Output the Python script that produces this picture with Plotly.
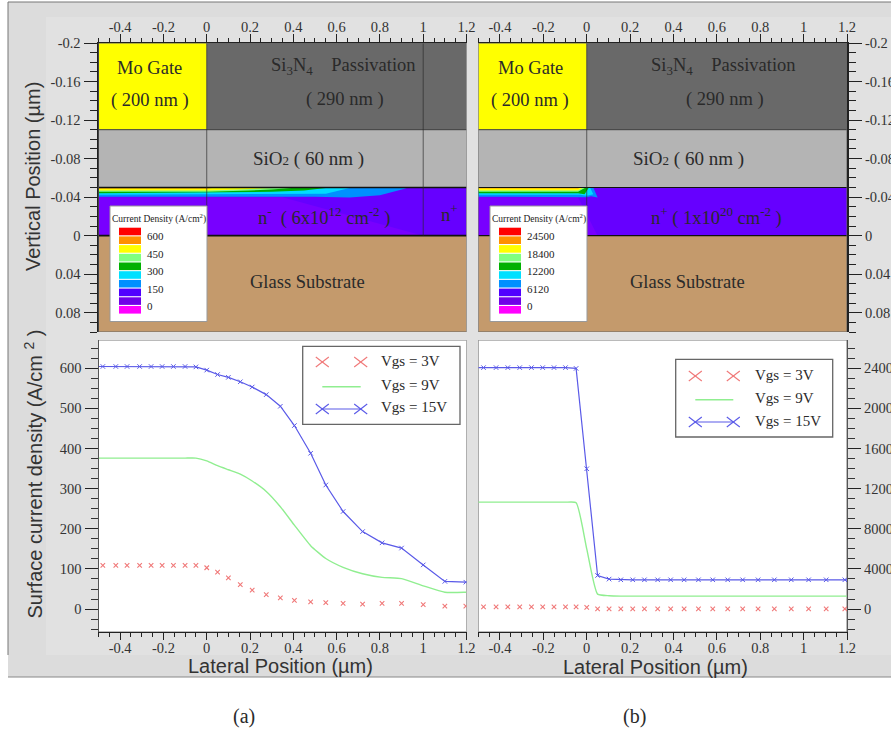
import plotly.graph_objects as go

W, H = 891, 734
SERIF = "Liberation Serif"
SANS = "Liberation Sans"
INK = "#2a2a2a"

# ---------- data: surface current density ----------
XA = [-0.48, -0.42, -0.368, -0.31, -0.257, -0.206, -0.154, -0.10, -0.05, 0.0, 0.05, 0.10, 0.155,
      0.21, 0.275, 0.34, 0.405, 0.48, 0.55, 0.63, 0.72, 0.81, 0.90, 1.0, 1.10, 1.197]
A_3V = [109, 109, 109, 109, 109, 109, 109, 109, 109, 103, 92, 78, 61,
        47, 36, 28, 22, 18, 16, 14, 12.5, 14, 14, 11, 7.5, 7.5]
A_9V = [376, 376, 376, 376, 376, 376, 376, 376, 376, 369, 357, 347, 336,
        319, 293, 255, 209, 158, 126, 104, 88, 79, 76, 58, 42, 42]
A_15V = [604, 604, 604, 604, 604, 604, 604, 604, 603, 595, 584, 577, 566,
         553, 534, 505, 457, 388, 309, 243, 193, 165, 152, 110, 69, 67]

XB = [-0.476, -0.418, -0.364, -0.309, -0.255, -0.203, -0.151, -0.098, -0.049, 0.0, 0.05, 0.103,
      0.157, 0.212, 0.266, 0.327, 0.387, 0.449, 0.515, 0.581, 0.65, 0.719, 0.79, 0.865, 0.943,
      1.023, 1.104, 1.19]
B_3V = [230, 230, 230, 230, 230, 230, 230, 230, 230, 165, 30, 30,
        30, 30, 30, 30, 30, 30, 30, 30, 30, 30, 30, 30, 30, 30, 30, 30]
B_9V = [10650, 10650, 10650, 10650, 10650, 10650, 10650, 10650, 10600, 6000, 1490, 1330,
        1295, 1295, 1295, 1295, 1295, 1295, 1295, 1295, 1295, 1295, 1295, 1295, 1295, 1295, 1295, 1295]
B_15V = [24050, 24050, 24050, 24050, 24050, 24050, 24050, 24050, 23970, 13975, 3350, 2990,
         2920, 2920, 2920, 2920, 2920, 2920, 2920, 2920, 2920, 2920, 2920, 2920, 2920, 2920, 2920, 2920]

# ---------- data: device cross-section layers ----------
GATE_COLOR, NITRIDE_COLOR, OXIDE_COLOR = "#ffff00", "#696969", "#b4b4b4"
N_COLOR, N_LIGHT, GLASS_COLOR = "#6600ff", "#7800ff", "#c49a6c"
Y_TOP, Y_GATE, Y_OXIDE, Y_SI, Y_BOTTOM = -0.2, -0.11, -0.05, 0.0, 0.1
X_MIN, X_MAX = -0.5, 1.2

BAND_COLORS = ["#0090ff", "#00dcff", "#00b000", "#80ff80", "#ffff00", "#ff9000"]
BANDS_A = [
    ([-0.5, 0.35, 0.5, 0.66, 0.8, 0.91, 0.93], [-0.0405, -0.041, -0.0405, -0.0395, -0.042, -0.0485, -0.05]),
    ([-0.5, 0.2, 0.35, 0.55, 0.66], [-0.0425, -0.043, -0.0435, -0.0435, -0.0495]),
    ([-0.5, 0.3, 0.45, 0.57], [-0.044, -0.0455, -0.047, -0.05]),
    ([-0.5, 0.0, 0.2, 0.3, 0.42], [-0.0455, -0.0455, -0.047, -0.048, -0.05]),
    ([-0.5, 0.0, 0.15, 0.3, 0.35], [-0.047, -0.047, -0.048, -0.049, -0.05]),
    ([-0.5, 0.0, 0.05], [-0.049, -0.049, -0.05]),
]
BANDS_B = [
    ([-0.5, -0.02, 0.0, 0.02, 0.05, 0.03], [-0.0405, -0.0405, -0.04, -0.041, -0.0395, -0.05]),
    ([-0.5, -0.03, 0.0, 0.03, 0.015], [-0.0425, -0.0425, -0.0415, -0.043, -0.05]),
    ([-0.5, -0.04, -0.01, 0.01], [-0.044, -0.044, -0.043, -0.05]),
    ([-0.5, -0.04, -0.005], [-0.0455, -0.0455, -0.05]),
    ([-0.5, -0.04, -0.015], [-0.047, -0.047, -0.05]),
    ([-0.5, -0.04, -0.03], [-0.049, -0.049, -0.05]),
]
WEDGE_A = ([-0.5, 0.35, 1.0, -0.5], [-0.04, -0.04, 0.0, 0.0])
WEDGE_B = ([-0.5, -0.04, 0.05, -0.5], [-0.04, -0.04, 0.0, 0.0])

# ---------- data: colour keys and tick labels ----------
KEY_COLORS = ["#ff0000", "#ff9000", "#ffff00", "#80ff80", "#00b000",
              "#00e0ff", "#0090ff", "#5000ff", "#7000e8", "#ff00ff"]
KEY_LABELS_A = ["600", "450", "300", "150", "0"]
KEY_LABELS_B = ["24500", "18400", "12200", "6120", "0"]
X_TICKS = [-0.4, -0.2, 0, 0.2, 0.4, 0.6, 0.8, 1, 1.2]
X_LABELS = ["-0.4", "-0.2", "0", "0.2", "0.4", "0.6", "0.8", "1", "1.2"]
DEPTH_TICKS = [-0.2, -0.16, -0.12, -0.08, -0.04, 0, 0.04, 0.08]
DEPTH_LABELS = ["-0.2", "-0.16", "-0.12", "-0.08", "-0.04", "0", "0.04", "0.08"]
A_TICKS = [0, 100, 200, 300, 400, 500, 600]
B_TICKS = [0, 4000, 8000, 12000, 16000, 20000, 24000]
SERIES_NAMES = ["Vgs = 3V", "Vgs = 9V", "Vgs = 15V"]
RED, GREEN, BLUE = "#f07878", "#90ee90", "#5a5ae8"


def px(x):
    return x / W


def py(y):
    return 1 - y / H


def pbox(x0, y0, x1, y1, **kw):
    return dict(type="rect", xref="paper", yref="paper", x0=px(x0), x1=px(x1), y0=py(y0), y1=py(y1), **kw)


def pline(x0, y0, x1, y1, color, width=1):
    return dict(type="line", xref="paper", yref="paper", x0=px(x0), x1=px(x1), y0=py(y0), y1=py(y1),
                line=dict(color=color, width=width))


def label(x, y, text, size=18, font=SERIF, color=INK, xanchor="center", angle=0):
    return dict(xref="paper", yref="paper", x=px(x), y=py(y), text=text, showarrow=False, textangle=angle,
                xanchor=xanchor, yanchor="middle", font=dict(family=font, size=size, color=color))


shapes, notes = [], []

# photographed page background
shapes += [pbox(8, 2, W, 677, fillcolor="#dcdcdc", line_width=0, layer="below"),
           pbox(46, 17, W, 655, fillcolor="#e1e1e1", line_width=0, layer="below"),
           pline(8, 2, W, 2, "#777777"), pline(8, 2, 8, 655, "#777777"), pline(8, 677, W, 677, "#888888")]
shapes[2]["layer"] = shapes[3]["layer"] = shapes[4]["layer"] = "below"

fig = go.Figure()


def axis_common(**kw):
    base = dict(showgrid=False, zeroline=False, ticks="outside", tickcolor="#222222", tickwidth=1, automargin=False,
                tickfont=dict(family=SERIF, size=14.5, color="#333333"), showline=True, linecolor="#222222")
    base.update(kw)
    return base


PANELS = {"a": (98.5, 466.5), "b": (478.3, 847)}
TOP_PX, BOTTOM_PX = (43, 332), (340, 632)

layout_axes = {}
# x/y : top a, x2/y2 : top b, x3/y3 : bottom a, x4/y4 : bottom b
for idx, (panel, (l, r), side) in enumerate([("a", PANELS["a"], "left"), ("b", PANELS["b"], "right")]):
    n_top, n_bot = 1 + idx * 1, 3 + idx * 1
    s_top = "" if n_top == 1 else str(n_top)
    s_bot = str(n_bot)
    layout_axes[f"xaxis{s_top}"] = axis_common(
        domain=[px(l), px(r)], range=[X_MIN, X_MAX], anchor=f"y{s_top}", side="top",
        tickvals=X_TICKS, ticktext=X_LABELS, ticklen=8, ticklabelstandoff=-4,
        minor=dict(dtick=0.05, tick0=0, ticks="outside", ticklen=4, tickcolor="#222222"))
    layout_axes[f"yaxis{s_top}"] = axis_common(
        domain=[py(TOP_PX[1]), py(TOP_PX[0])], range=[Y_BOTTOM, Y_TOP], anchor=f"x{s_top}", side=side,
        tickvals=DEPTH_TICKS, ticktext=DEPTH_LABELS, ticklen=13, linewidth=2,
        minor=dict(dtick=0.01, tick0=0, ticks="outside", ticklen=7, tickcolor="#222222"))
    layout_axes[f"xaxis{s_bot}"] = axis_common(
        domain=[px(l), px(r)], range=[X_MIN, X_MAX], anchor=f"y{s_bot}", side="bottom",
        tickvals=X_TICKS, ticktext=X_LABELS, ticklen=7, ticklabelstandoff=-4,
        minor=dict(dtick=0.05, tick0=0, ticks="outside", ticklen=4, tickcolor="#222222"))
    if panel == "a":
        yr, tv, md = [-57, 670], A_TICKS, 25
    else:
        yr, tv, md = [-2280, 26800], B_TICKS, 1000
    layout_axes[f"yaxis{s_bot}"] = axis_common(
        domain=[py(BOTTOM_PX[1]), py(BOTTOM_PX[0])], range=yr, anchor=f"x{s_bot}", side=side,
        tickvals=tv, ticktext=[str(v) for v in tv], ticklen=13, linecolor="#555555",
        minor=dict(dtick=md, tick0=0, ticks="outside", ticklen=7, tickcolor="#333333"))

    # cross-section layers, in data coordinates
    xr, yr_ref = f"x{s_top}", f"y{s_top}"
    for x0, x1, y0, y1, c in [(X_MIN, 0, Y_TOP, Y_GATE, GATE_COLOR), (0, X_MAX, Y_TOP, Y_GATE, NITRIDE_COLOR),
                              (X_MIN, X_MAX, Y_GATE, Y_OXIDE, OXIDE_COLOR), (X_MIN, X_MAX, Y_OXIDE, Y_SI, N_COLOR),
                              (X_MIN, X_MAX, Y_SI, Y_BOTTOM, GLASS_COLOR)]:
        shapes.append(dict(type="rect", xref=xr, yref=yr_ref, x0=x0, x1=x1, y0=y0, y1=y1,
                           fillcolor=c, line_width=0, layer="below"))

    wedge = WEDGE_A if panel == "a" else WEDGE_B
    fig.add_trace(go.Scatter(x=wedge[0], y=wedge[1], xaxis=xr, yaxis=yr_ref, mode="lines", fill="toself",
                             fillcolor=N_LIGHT, line_width=0, hoverinfo="skip", showlegend=False))
    bands = BANDS_A if panel == "a" else BANDS_B
    for (bx, by), c in zip(bands, BAND_COLORS):
        fig.add_trace(go.Scatter(x=bx + [bx[0]], y=by + [Y_OXIDE], xaxis=xr, yaxis=yr_ref, mode="lines",
                                 fill="toself", fillcolor=c, line_width=0, hoverinfo="skip", showlegend=False))

    # boundaries
    boundary_w = 1.6 if panel == "a" else 1.2
    for yv, c, w in [(Y_GATE, "#3a3a3a", 1), (Y_OXIDE, "#111111", boundary_w), (Y_SI, "#111111", boundary_w)]:
        shapes.append(dict(type="line", xref=xr, yref=yr_ref, x0=X_MIN, x1=X_MAX, y0=yv, y1=yv,
                           line=dict(color=c, width=w), layer="above"))
    for xv in ([0, 1] if panel == "a" else [0]):
        shapes.append(dict(type="line", xref=xr, yref=yr_ref, x0=xv, x1=xv, y0=Y_TOP, y1=Y_SI,
                           line=dict(color="rgba(40,40,40,0.65)", width=1), layer="above"))

    # panel frames
    shapes.append(dict(type="rect", xref=xr, yref=yr_ref, x0=X_MIN, x1=X_MAX, y0=Y_TOP, y1=Y_BOTTOM,
                       line=dict(color="#666666", width=1), layer="above"))
    shapes.append(dict(type="rect", xref=f"x{s_bot}", yref=f"y{s_bot}", x0=X_MIN, x1=X_MAX, y0=yr[0], y1=yr[1],
                       fillcolor="white", line=dict(color="#777777", width=1), layer="below"))

    # curves
    xs, v3, v9, v15 = (XA, A_3V, A_9V, A_15V) if panel == "a" else (XB, B_3V, B_9V, B_15V)
    xa, ya = f"x{s_bot}", f"y{s_bot}"
    fig.add_trace(go.Scatter(x=xs, y=v3, xaxis=xa, yaxis=ya, mode="markers", name=SERIES_NAMES[0],
                             marker=dict(symbol="x-thin", size=4.5, line=dict(color=RED, width=1.1)), showlegend=False))
    fig.add_trace(go.Scatter(x=[X_MIN] + xs + [X_MAX], y=[v9[0]] + v9 + [v9[-1]], xaxis=xa, yaxis=ya, mode="lines",
                             name=SERIES_NAMES[1], line=dict(color=GREEN, width=1.4, shape="spline", smoothing=0.5),
                             showlegend=False))
    fig.add_trace(go.Scatter(x=[X_MIN] + xs + [X_MAX], y=[v15[0]] + v15 + [v15[-1]], xaxis=xa, yaxis=ya, mode="lines",
                             name=SERIES_NAMES[2], line=dict(color=BLUE, width=1.2), showlegend=False))
    fig.add_trace(go.Scatter(x=xs, y=v15, xaxis=xa, yaxis=ya, mode="markers", name=SERIES_NAMES[2],
                             marker=dict(symbol="x-thin", size=4.5, line=dict(color=BLUE, width=1.0)), showlegend=False))


# cross-section text
def section_text(mo_x, si_x, t290_x, ox_x, glass_x):
    gap = "\u00a0" * 4
    return [label(mo_x, 67.7, "Mo Gate", 18.5), label(mo_x, 100, "( 200 nm )", 18.5),
            label(si_x, 67, f"Si<sub>3</sub>N<sub>4</sub>{gap}Passivation", 18.5),
            label(t290_x, 99.5, "( 290 nm )", 18.5),
            label(ox_x, 158.5, "SiO<span style='font-size:13px'>2</span> ( 60 nm )", 19),
            label(glass_x, 282.5, "Glass Substrate", 18.5)]


notes += section_text(149.7, 343.5, 345, 308, 307)
notes += section_text(530, 723, 725, 688, 687)
notes += [label(324, 216.7, "n<sup>-</sup>  ( 6x10<sup>12</sup> cm<sup>-2</sup> )", 18.5),
          label(449, 213, "n<sup>+</sup>", 18.5),
          label(716, 216, "n<sup>+</sup> ( 1x10<sup>20</sup> cm<sup>-2</sup> )", 18.5)]


# colour keys
def colour_key(x0, labels):
    out_shapes = [pbox(x0, 206, x0 + 97, 321.5, fillcolor="white", line=dict(color="#999999", width=1), layer="above")]
    out_notes = [label(x0 + 48.5, 218, "Current Density (A/cm<sup>2</sup>)", 9.5, color="#222222")]
    for i, c in enumerate(KEY_COLORS):
        top = 227.7 + 8.7 * i
        out_shapes.append(pbox(x0 + 9, top, x0 + 31, top + 7.6, fillcolor=c, line_width=0, layer="above"))
    for i, t in enumerate(labels):
        out_notes.append(label(x0 + 35, 236 + 17.6 * i, t, 11, color="#222222", xanchor="left"))
    return out_shapes, out_notes


for x0, labels in [(110, KEY_LABELS_A), (490, KEY_LABELS_B)]:
    s, n = colour_key(x0, labels)
    shapes += s
    notes += n


# hand-laid series keys (two crosses per entry, as in the picture)
def series_key(x0, y0, x1, y1, mx0, mx1, tx, rows):
    out = [pbox(x0, y0, x1, y1, fillcolor="white", line=dict(color="#666666", width=1.3), layer="above")]
    txt = []
    for i, (ry, name) in enumerate(zip(rows, SERIES_NAMES)):
        if i == 1:
            out.append(pline(mx0, ry, mx1, ry, GREEN, 1.4))
        if i == 2:
            out.append(pline(mx0, ry, mx1, ry, BLUE, 1.2))
        if i != 1:
            c = RED if i == 0 else BLUE
            for mx in (mx0, mx1):
                out.append(pline(mx - 6.5, ry - 5, mx + 6.5, ry + 5, c, 1.1))
                out.append(pline(mx - 6.5, ry + 5, mx + 6.5, ry - 5, c, 1.1))
        txt.append(label(tx, ry - 1.5, name, 15, xanchor="left"))
    return out, txt


for args in [(302.7, 346.3, 460, 424.3, 322.3, 360.7, 379, (362, 386.7, 409)),
             (675.7, 359.3, 832.7, 437, 695.3, 733.3, 752.5, (376, 399.7, 422))]:
    s, n = series_key(*args)
    shapes += s
    notes += n

# titles and captions
notes += [label(33, 177, "Vertical Position (µm)", 20, SANS, "#333333", angle=-90),
          label(33, 474.5, "Surface current density (A/cm <sup>2</sup> )", 20, SANS, "#333333", angle=-90),
          label(280, 665.5, "Lateral Position (µm)", 20, SANS, "#333333"),
          label(655, 666.5, "Lateral Position (µm)", 20, SANS, "#333333"),
          label(244, 716.5, "(a)", 20), label(634, 716.5, "(b)", 20)]

fig.update_layout(width=W, height=H, autosize=False, margin=dict(l=0, r=0, t=0, b=0),
                  paper_bgcolor="white", plot_bgcolor="rgba(0,0,0,0)", showlegend=False,
                  shapes=shapes, annotations=notes, **layout_axes)

fig.write_html("out.html", config=dict(displayModeBar=False),
               post_script="document.body.style.margin='0';")
